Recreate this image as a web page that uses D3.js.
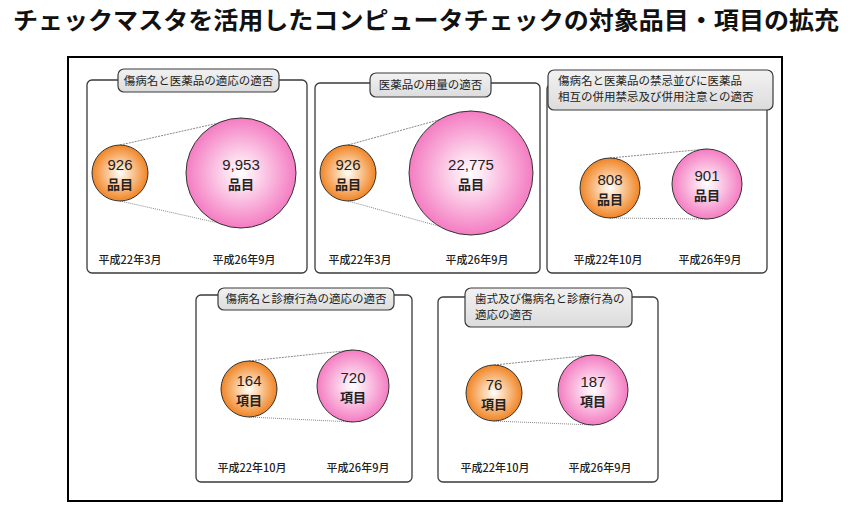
<!DOCTYPE html>
<html><head><meta charset="utf-8">
<script src="https://cdn.jsdelivr.net/npm/d3@7"></script>
<style>body{margin:0;background:#fff}svg{display:block}text{font-family:"Noto Sans CJK JP","Noto Sans",sans-serif}</style>
</head><body>
<script>
const pageTitle = "チェックマスタを活用したコンピュータチェックの対象品目・項目の拡充";
const categories = [
  ["傷病名と医薬品の適応の適否"],
  ["医薬品の用量の適否"],
  ["傷病名と医薬品の禁忌並びに医薬品", "相互の併用禁忌及び併用注意との適否"],
  ["傷病名と診療行為の適応の適否"],
  ["歯式及び傷病名と診療行為の", "適応の適否"]
];
const beforeValues = [926, 926, 808, 164, 76];
const afterValues = [9953, 22775, 901, 720, 187];
const units = ["品目", "品目", "品目", "項目", "項目"];
const beforeDates = ["平成22年3月", "平成22年3月", "平成22年10月", "平成22年10月", "平成22年10月"];
const afterDates = ["平成26年9月", "平成26年9月", "平成26年9月", "平成26年9月", "平成26年9月"];

// layout (positions/sizes only)
const layout = [
  {fx:87, fy:80, fw:220, fh:193, tx:118, ty:69, tw:161, th:23, c1:[120,173,28], c2:[241,173,55], ly:260, lx:[130,244]},
  {fx:315, fy:83, fw:225, fh:190, tx:370, ty:73, tw:121, th:24, c1:[348,173,28], c2:[471,173,62], ly:260, lx:[360,477]},
  {fx:547, fy:84, fw:220, fh:189, tx:548, ty:70, tw:225, th:40, c1:[610,188,30], c2:[707,184,35], ly:260, lx:[608,710]},
  {fx:196, fy:295, fw:216, fh:187, tx:218, ty:288, tw:176, th:22, c1:[249,389,28], c2:[353,386,36], ly:468, lx:[252,358]},
  {fx:438, fy:297, fw:220, fh:185, tx:465, ty:288, tw:167, th:39, c1:[494,393,28], c2:[593,390,35], ly:468, lx:[495,600]}
];

const W = 853, H = 514;
const svg = d3.select("body").append("svg").attr("width", W).attr("height", H);
const defs = svg.append("defs");
function radial(id, c0, c1, c2) {
  const g = defs.append("radialGradient").attr("id", id).attr("cx", "50%").attr("cy", "50%").attr("r", "50%");
  g.append("stop").attr("offset", "0%").attr("stop-color", c0);
  g.append("stop").attr("offset", "25%").attr("stop-color", c1);
  g.append("stop").attr("offset", "100%").attr("stop-color", c2);
}
radial("gOrange", "#ffffff", "#fde0c2", "#f08424");
radial("gPink", "#ffffff", "#fde0f0", "#f47cc2");
const lg = defs.append("linearGradient").attr("id", "gBox").attr("x1", 0).attr("y1", 0).attr("x2", 0).attr("y2", 1);
lg.append("stop").attr("offset", "0%").attr("stop-color", "#f2f2f2");
lg.append("stop").attr("offset", "100%").attr("stop-color", "#dcdcdc");

svg.append("text").attr("x", 426).attr("y", 29).attr("text-anchor", "middle")
  .attr("font-size", 24).attr("font-weight", "bold").attr("fill", "#111")
  .attr("textLength", 826).attr("lengthAdjust", "spacingAndGlyphs").text(pageTitle);

svg.append("rect").attr("x", 68).attr("y", 57).attr("width", 714).attr("height", 444)
  .attr("fill", "none").attr("stroke", "#000").attr("stroke-width", 2);

const fmt = d3.format(",");

categories.forEach((cat, i) => {
  const L = layout[i];
  const g = svg.append("g");
  g.append("rect").attr("x", L.fx).attr("y", L.fy).attr("width", L.fw).attr("height", L.fh)
    .attr("rx", 5).attr("fill", "#fff").attr("stroke", "#3a3a3a").attr("stroke-width", 1.3);
  g.append("rect").attr("x", L.tx).attr("y", L.ty).attr("width", L.tw).attr("height", L.th)
    .attr("rx", 6).attr("fill", "url(#gBox)").attr("stroke", "#3a3a3a").attr("stroke-width", 1.2);
  if (cat.length === 1) {
    g.append("text").attr("x", L.tx + L.tw / 2).attr("y", L.ty + L.th / 2 + 4).attr("text-anchor", "middle")
      .attr("font-size", 11.5).attr("fill", "#222").text(cat[0]);
  } else {
    cat.forEach((line, k) => {
      g.append("text").attr("x", L.tx + 10).attr("y", L.ty + 15 + k * 16)
        .attr("font-size", 11.5).attr("fill", "#222").text(line);
    });
  }
  const [x1, y1, r1] = L.c1, [x2, y2, r2] = L.c2;
  g.append("line").attr("x1", x1).attr("y1", y1 - r1).attr("x2", x2).attr("y2", y2 - r2)
    .attr("stroke", "#888").attr("stroke-width", 1).attr("stroke-dasharray", "2,1");
  g.append("line").attr("x1", x1).attr("y1", y1 + r1).attr("x2", x2).attr("y2", y2 + r2)
    .attr("stroke", "#888").attr("stroke-width", 1).attr("stroke-dasharray", "1,1");
  const circles = [
    {c: L.c1, v: beforeValues[i], fill: "url(#gOrange)", date: beforeDates[i], lx: L.lx[0]},
    {c: L.c2, v: afterValues[i], fill: "url(#gPink)", date: afterDates[i], lx: L.lx[1]}
  ];
  circles.forEach(d => {
    g.append("circle").attr("cx", d.c[0]).attr("cy", d.c[1]).attr("r", d.c[2])
      .attr("fill", d.fill).attr("stroke", "#333").attr("stroke-width", 1);
    g.append("text").attr("x", d.c[0]).attr("y", d.c[1] - 3).attr("text-anchor", "middle")
      .attr("font-size", 15).attr("fill", "#222").style("font-family", "'Liberation Sans', Arial, sans-serif").text(fmt(d.v));
    g.append("text").attr("x", d.c[0]).attr("y", d.c[1] + 16).attr("text-anchor", "middle")
      .attr("font-size", 13).attr("font-weight", "bold").attr("fill", "#222").text(units[i]);
    g.append("text").attr("x", d.lx).attr("y", L.ly + 4).attr("text-anchor", "middle")
      .attr("font-size", 11).attr("font-weight", 500).attr("fill", "#222").text(d.date);
  });
});
</script>
</body></html>
